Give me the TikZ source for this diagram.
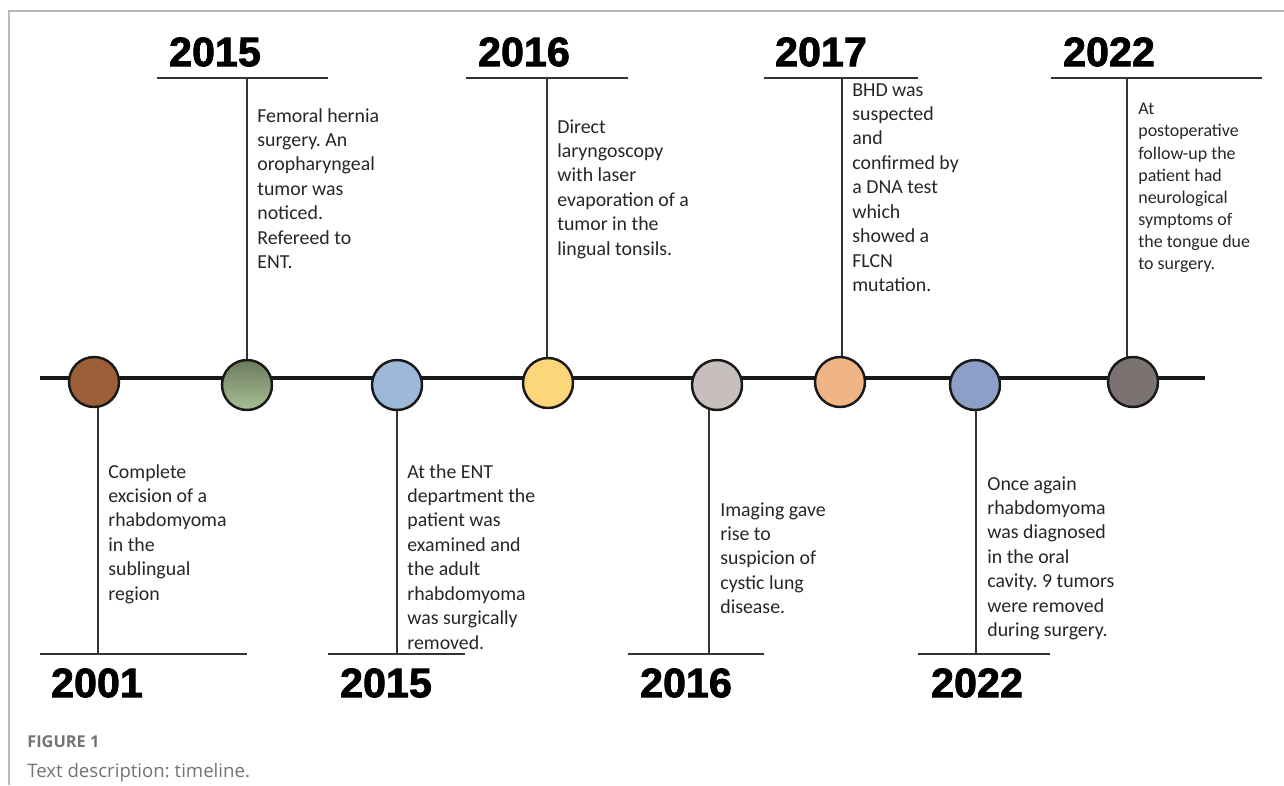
\documentclass[tikz,border=0pt]{standalone}
\usepackage{fontspec}
\setmainfont{Carlito}
\newfontfamily\yearfont[FakeBold=1.8]{Liberation Sans}
\newfontfamily\capfont{Open Sans}
\definecolor{cBrown}{HTML}{9C5F38}
\definecolor{cGreenA}{HTML}{6B7A5E}
\definecolor{cGreenB}{HTML}{A8C095}
\definecolor{cBlue}{HTML}{9DB8D9}
\definecolor{cYellow}{HTML}{FDD67A}
\definecolor{cGrey}{HTML}{C6BFBE}
\definecolor{cOrange}{HTML}{F0B585}
\definecolor{cPurple}{HTML}{8E9FC7}
\definecolor{cDark}{HTML}{7B7372}
\frenchspacing
\begin{document}
\begin{tikzpicture}[x=0.02cm, y=-0.02cm,
    dot/.style={circle, draw=black!90, line width=1.4pt, minimum size=1cm, inner sep=0pt},
    yr/.style={inner sep=0pt, font=\yearfont\bfseries\fontsize{23.5}{23.5}\selectfont},
    txt/.style={anchor=north west, align=left, inner sep=0pt, text=black!85, font=\fontsize{11.3}{13.9}\selectfont},
    bar/.style={line width=0.8pt, black!80}]
    \useasboundingbox (0,0) rectangle (1284,785);
    %figure frame (only top and left edge show)
    \draw[gray!55, line width=1.1pt] (9,785) -- (9,11) -- (1284,11);

    %main time axis
    \coordinate (L) at (40,378);
    \coordinate (R) at (1205,378);
    \draw[line width=2.8pt, black!90] (L) -- (R);

    %year bars and stems: circle/bar left/bar right/stem x/bar y
    \foreach \c/\xa/\xb/\xs/\yb in {c2/157/328/247/78, c4/466/628/547/78, c6/764/918/842/78, c8/1051/1262/1127/78,
                                    c1/40/247/98/654, c3/328/465/397/654, c5/628/764/709/654, c7/918/1050/976/654} {
        \coordinate (\c l) at (\xa,\yb);
        \coordinate (\c r) at (\xb,\yb);
        \coordinate (\c s) at (\xs,\yb);
        \draw[bar] (\c l) -- (\c r);
        \draw[bar] (\c s) -- (\c s |- L);
    }

    %event circles
    \foreach \n/\x/\y/\col in {c1/94/382/cBrown, c3/397/385/cBlue, c4/548/383/cYellow, c5/717/385/cGrey,
                               c6/840/382/cOrange, c7/975/385/cPurple, c8/1133/382/cDark}
        \node[dot, fill=\col] (\n) at (\x,\y) {};
    \node[dot, top color=cGreenA, bottom color=cGreenB] (c2) at (247,385) {};

    %years
    \foreach \n/\x/\y/\t in {y2/215/52/2015, y4/524/52/2016, y6/821/52/2017, y8/1109/52/2022,
                             y1/97/683/2001, y3/386/683/2015, y5/686/683/2016, y7/977/683/2022}
        \node[yr] (\n) at (\x,\y) {\t};

    %top texts
    \node[txt] (t2) at (257,108) {Femoral hernia\\surgery. An\\oropharyngeal\\tumor was\\noticed.\\Refereed to\\ENT.};
    \node[txt] (t4) at (557,119) {Direct\\laryngoscopy\\with laser\\evaporation of a\\tumor in the\\lingual tonsils.};
    \node[txt] (t6) at (852,83) {BHD was\\suspected\\and\\confirmed by\\a DNA test\\which\\showed a\\FLCN\\mutation.};
    \node[txt, font=\fontsize{10.2}{12.6}\selectfont] (t8) at (1138,103) {At\\postoperative\\follow-up the\\patient had\\neurological\\symptoms of\\the tongue due\\to surgery.};

    %bottom texts
    \node[txt] (t1) at (108,464) {Complete\\excision of a\\rhabdomyoma\\in the\\sublingual\\region};
    \node[txt] (t3) at (407,464) {At the ENT\\department the\\patient was\\examined and\\the adult\\rhabdomyoma\\was surgically\\removed.};
    \node[txt] (t5) at (720,502) {Imaging gave\\rise to\\suspicion of\\cystic lung\\disease.};
    \node[txt] (t7) at (987,476) {Once again\\rhabdomyoma\\was diagnosed\\in the oral\\cavity. 9 tumors\\were removed\\during surgery.};

    %caption
    \node[anchor=base west, inner sep=0pt, text=black!55, font=\capfont\bfseries\fontsize{9.3}{9.3}\selectfont] (fig) at (27,747) {FIGURE 1};
    \node[anchor=base west, inner sep=0pt, text=black!55, font=\capfont\fontsize{10.6}{10.6}\selectfont] (desc) at (27,777) {Text description: timeline.};
\end{tikzpicture}
\end{document}
